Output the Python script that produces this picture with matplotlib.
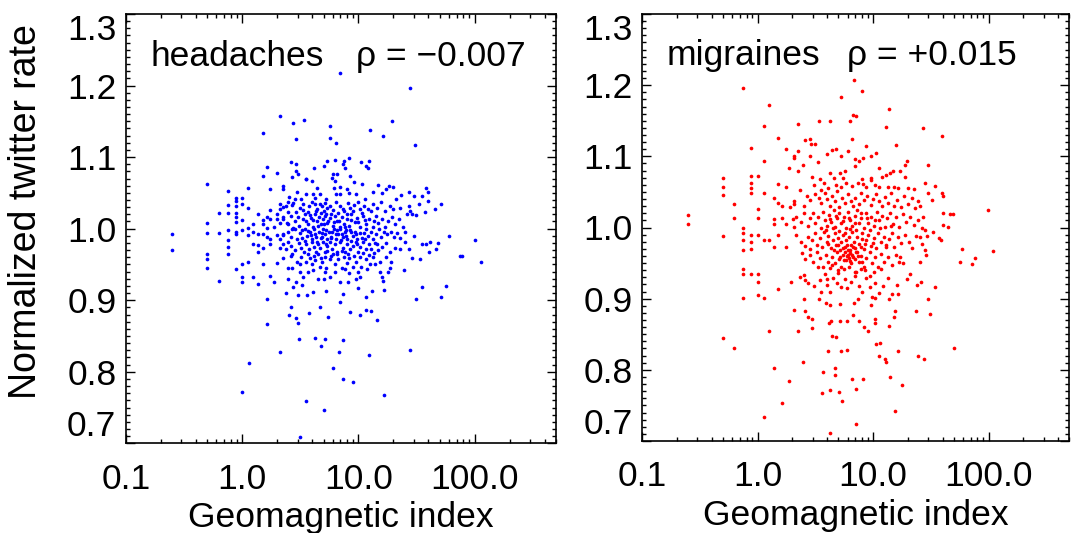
import numpy as np
import matplotlib
matplotlib.use('Agg')
import matplotlib.pyplot as plt
from matplotlib.ticker import FixedLocator, MultipleLocator, LogLocator, NullFormatter

plt.rcParams['font.family'] = ['Liberation Sans', 'DejaVu Sans']

# (geomagnetic index, normalized twitter rate)
headaches_outer = [
    (7.0, 1.218), (27.5, 1.197), (2.13, 1.157), (2.73, 1.147), (3.38, 1.152), (1.50, 1.134),
    (2.88, 1.125), (5.74, 1.144), (5.74, 1.127), (6.38, 1.120), (12.5, 1.138), (19.4, 1.151),
    (16.1, 1.130), (30.6, 1.117),
    (2.61, 1.093), (2.88, 1.090), (2.92, 1.080), (3.0, 1.077), (1.63, 1.086), (1.50, 1.074),
    (2.0, 1.078), (2.66, 1.072), (4.12, 1.085), (5.0, 1.087), (5.40, 1.094), (6.25, 1.096),
    (7.48, 1.095), (8.25, 1.099), (7.3, 1.091), (7.63, 1.085), (6.05, 1.077), (5.9, 1.071),
    (6.3, 1.067), (6.5, 1.077), (10.6, 1.093), (11.6, 1.088), (12.4, 1.095), (12.1, 1.085),
    (8.4, 1.073), (9.06, 1.065), (10.8, 1.063), (3.54, 1.070), (4.0, 1.066), (2.23, 1.060),
    (2.24, 1.056), (1.74, 1.056), (1.13, 1.057), (0.50, 1.063), (0.75, 1.052), (14.6, 1.061),
    (17.2, 1.055), (18.4, 1.059), (20.0, 1.058), (27.3, 1.051), (30.0, 1.046), (34.9, 1.045),
    (38.0, 1.057), (39.5, 1.051), (51.6, 1.034), (39.5, 1.038), (32.9, 1.035), (45.2, 1.027),
    (37.3, 1.023), (27.9, 1.024), (29.0, 1.021), (31.5, 1.019), (27.3, 1.032), (23.2, 1.047),
    (21.0, 1.041), (22.7, 1.029),
    (0.249, 0.993), (0.249, 0.970), (0.50, 1.008), (0.50, 0.994), (0.50, 0.964), (0.50, 0.957),
    (0.50, 0.945), (0.625, 1.022), (0.625, 0.994), (0.625, 0.927), (0.75, 1.033), (0.75, 1.022),
    (0.75, 0.998), (0.75, 0.984), (0.75, 0.974), (0.75, 0.965), (0.877, 1.043), (0.877, 1.038),
    (0.877, 1.031), (0.877, 1.022), (0.877, 1.016), (0.877, 1.009), (0.877, 0.996), (0.877, 0.993),
    (0.877, 0.943), (1.0, 1.043), (1.0, 1.034), (1.0, 1.012), (1.0, 0.998), (1.0, 0.950),
    (1.0, 0.932), (1.0, 0.925), (1.13, 1.029), (1.13, 1.001), (1.13, 0.991), (1.13, 0.953),
    (1.24, 1.007), (1.24, 0.996), (1.24, 0.978), (1.24, 0.932), (1.37, 1.020), (1.37, 0.992),
    (1.37, 0.977), (1.37, 0.968), (1.37, 0.923), (1.50, 1.012), (1.50, 1.007), (1.50, 0.993),
    (1.50, 0.973), (1.50, 0.950), (1.63, 1.016), (1.63, 1.001), (1.63, 0.988), (1.63, 0.902),
    (1.63, 0.867), (1.74, 1.026), (1.74, 1.013), (1.74, 0.986), (1.74, 0.978), (1.74, 0.934),
    (1.86, 1.003), (1.86, 0.925), (2.0, 1.013), (2.0, 0.991), (2.0, 0.952), (2.13, 1.028),
    (2.13, 1.008), (2.13, 0.973), (2.13, 0.828), (2.23, 1.016), (2.23, 0.991), (2.23, 0.959),
    (2.37, 0.910), (2.51, 0.879), (2.61, 0.891), (2.48, 1.023), (2.48, 1.006), (2.48, 0.981),
    (2.48, 0.945), (2.48, 0.930), (2.66, 1.033), (2.69, 0.999), (2.69, 0.964), (2.73, 0.919),
    (2.88, 0.875), (3.0, 0.868), (3.0, 0.907), (3.08, 0.846), (3.12, 0.940), (3.27, 0.921),
    (3.52, 0.759), (3.73, 0.882), (3.6, 0.907), (4.1, 0.911), (4.23, 0.847), (4.67, 0.891),
    (4.72, 0.836), (5.13, 0.846), (5.0, 0.747), (5.25, 0.913), (5.51, 0.876), (6.0, 0.805),
    (6.77, 0.828), (7.3, 0.845), (7.0, 0.897), (7.3, 0.790), (7.42, 0.908), (8.4, 0.884),
    (8.95, 0.786), (9.87, 0.917), (10.3, 0.879), (11.6, 0.904), (11.6, 0.886), (12.9, 0.885),
    (14.4, 0.872), (13.0, 0.913), (12.2, 0.823), (16.6, 0.767), (16.2, 0.927), (16.6, 0.914),
    (16.0, 0.932), (27.9, 0.831), (34.9, 0.918), (31.5, 0.902), (56.6, 0.920), (51.3, 0.904),
    (100.7, 0.984), (112.7, 0.954), (74.8, 0.962), (78.0, 0.962), (60.0, 0.990), (48.0, 0.980),
    (41.1, 0.981), (38.0, 0.979), (40.5, 0.968), (46.3, 0.971), (34.9, 0.978), (30.0, 0.990),
    (34.1, 0.957), (27.3, 0.971), (28.8, 0.959), (24.6, 0.942), (19.2, 0.954), (18.7, 0.945),
    (17.8, 0.939), (15.3, 0.940), (14.0, 0.950), (13.7, 0.966), (3.12, 0.709), (1.14, 0.812),
    (1.0, 0.772),
]

headaches_core = [
    (2.95, 1.051), (3.56, 1.069), (3.56, 1.048), (4.1, 1.048), (4.4, 1.057), (4.7, 1.048),
    (5.3, 1.042), (6.1, 1.057), (6.9, 1.058), (7.9, 1.055), (8.3, 1.050), (9.5, 1.049),
    (6.4, 1.048), (7.0, 1.048), (13.4, 1.051), (11.3, 1.042), (15.9, 1.050), (2.82, 1.041),
    (3.2, 1.041), (2.52, 1.044), (2.48, 1.037),
    (2.24, 1.030), (2.37, 1.032), (2.73, 1.036), (3.15, 1.029), (3.3, 1.035), (3.75, 1.031),
    (3.95, 1.037), (4.2, 1.034), (4.4, 1.027), (4.65, 1.035), (4.9, 1.031), (5.2, 1.036),
    (5.4, 1.029), (5.65, 1.032), (6.05, 1.026), (6.45, 1.037), (7.0, 1.031), (7.5, 1.024),
    (8.1, 1.036), (8.5, 1.029), (9.1, 1.033), (9.9, 1.037), (10.3, 1.027), (11.2, 1.031),
    (12.1, 1.028), (13.2, 1.034), (14.3, 1.029), (15.5, 1.037), (16.8, 1.024), (18.6, 1.032),
    (19.9, 1.027), (4.2, 1.043), (5.0, 1.024), (3.7, 1.023), (2.9, 1.023), (2.13, 1.034),
    (2.24, 1.013), (2.43, 1.008), (2.64, 1.018), (2.82, 1.010), (3.0, 1.016), (3.1, 1.004),
    (3.3, 1.013), (3.5, 1.020), (3.7, 1.007), (3.9, 1.015), (4.06, 1.003), (4.2, 1.020),
    (4.4, 1.010), (4.6, 1.016), (4.8, 1.006), (4.97, 1.013), (5.25, 1.020), (5.4, 1.008),
    (5.65, 1.015), (6.0, 1.004), (6.25, 1.018), (6.5, 1.010), (6.9, 1.003), (7.2, 1.016),
    (7.5, 1.007), (7.9, 1.013), (8.3, 1.004), (8.7, 1.020), (9.3, 1.009), (9.7, 1.015),
    (10.3, 1.003), (11.0, 1.018), (11.6, 1.006), (12.4, 1.013), (13.2, 1.003), (14.1, 1.017),
    (14.8, 1.008), (15.8, 1.014), (16.8, 1.003), (18.0, 1.010), (19.3, 1.016), (20.6, 1.006),
    (22.4, 1.013), (24.3, 1.003), (25.9, 1.020), (2.73, 1.001), (1.99, 1.020),
    (2.48, 0.996), (2.64, 0.989), (2.82, 1.000), (2.95, 0.986), (3.12, 0.994), (3.28, 0.987),
    (3.45, 0.999), (3.6, 0.990), (3.8, 0.995), (4.0, 0.986), (4.16, 0.999), (4.35, 0.989),
    (4.55, 0.996), (4.72, 0.987), (4.95, 1.000), (5.15, 0.992), (5.4, 0.986), (5.55, 0.996),
    (5.85, 0.989), (6.1, 0.999), (6.4, 0.986), (6.7, 0.993), (7.0, 0.999), (7.3, 0.988),
    (7.6, 0.995), (8.0, 0.986), (8.4, 0.998), (8.9, 0.990), (9.35, 0.996), (9.8, 0.986),
    (10.3, 0.994), (10.8, 0.987), (11.5, 0.999), (12.1, 0.990), (12.7, 0.996), (13.4, 0.986),
    (14.1, 0.993), (14.9, 0.999), (15.7, 0.988), (16.5, 0.995), (17.7, 0.992), (18.9, 0.996),
    (20.1, 0.989), (21.5, 0.994), (22.9, 0.987), (25.0, 0.996), (2.24, 0.993), (2.13, 0.985),
    (2.64, 0.976), (2.82, 0.970), (3.08, 0.980), (3.23, 0.973), (3.4, 0.967), (3.56, 0.978),
    (3.73, 0.971), (3.95, 0.982), (4.12, 0.975), (4.3, 0.968), (4.5, 0.979), (4.7, 0.973),
    (4.95, 0.981), (5.15, 0.968), (5.4, 0.976), (5.65, 0.982), (5.9, 0.972), (6.25, 0.978),
    (6.5, 0.967), (6.9, 0.981), (7.3, 0.973), (7.7, 0.967), (8.0, 0.979), (8.4, 0.971),
    (8.9, 0.976), (9.5, 0.982), (9.9, 0.968), (10.4, 0.975), (11.0, 0.981), (11.6, 0.971),
    (12.2, 0.978), (12.9, 0.972), (13.8, 0.980), (14.8, 0.970), (15.8, 0.975), (17.3, 0.980),
    (18.6, 0.968), (20.6, 0.973), (22.7, 0.971), (25.0, 0.982), (2.4, 0.971), (2.24, 0.978),
    (2.64, 0.962), (2.95, 0.954), (3.23, 0.961), (3.52, 0.953), (3.8, 0.959), (4.0, 0.950),
    (4.2, 0.956), (4.5, 0.964), (4.65, 0.947), (4.9, 0.954), (5.1, 0.961), (5.3, 0.945),
    (5.65, 0.957), (6.0, 0.964), (6.25, 0.950), (6.7, 0.957), (7.15, 0.945), (7.5, 0.961),
    (7.9, 0.952), (8.3, 0.959), (9.0, 0.947), (9.6, 0.954), (10.3, 0.961), (10.6, 0.947),
    (11.5, 0.957), (12.6, 0.950), (13.4, 0.961), (15.3, 0.954), (17.3, 0.961), (3.7, 0.940),
    (4.06, 0.942), (5.13, 0.939), (5.7, 0.933), (6.25, 0.939), (7.6, 0.943), (8.3, 0.938),
    (9.9, 0.940), (10.3, 0.933), (11.9, 0.943), (2.7, 0.945), (3.12, 0.950), (3.33, 0.933),
    (4.5, 0.929), (5.0, 0.929), (6.9, 0.926), (8.1, 0.926), (9.6, 0.929), (2.9, 0.926),
]

# extra points in the densest part of the headaches cloud
headaches_dense = [
    (3.35, 1.026), (3.85, 1.019), (4.3, 1.024), (4.75, 1.022), (5.1, 1.017), (5.8, 1.021),
    (6.6, 1.022), (7.3, 1.027), (8.0, 1.020), (9.0, 1.024), (10.8, 1.022), (12.8, 1.024),
    (3.55, 1.010), (4.05, 1.012), (4.5, 1.004), (5.05, 1.006), (5.5, 1.011), (6.15, 1.009),
    (6.8, 1.011), (7.7, 1.002), (8.6, 1.012), (9.9, 1.009), (11.4, 1.012), (13.7, 1.011),
    (3.25, 0.998), (3.7, 0.997), (4.25, 0.993), (4.85, 0.994), (5.3, 0.998), (5.95, 0.996),
    (6.55, 0.998), (7.15, 0.993), (7.85, 0.998), (8.7, 0.995), (9.6, 0.992), (11.2, 0.994),
    (3.45, 0.983), (3.9, 0.991), (4.4, 0.981), (4.85, 0.988), (5.25, 0.979), (5.75, 0.987),
    (6.35, 0.992), (7.05, 0.984), (7.75, 0.990), (8.6, 0.983), (9.7, 0.979), (11.3, 0.986),
    (3.65, 0.964), (4.15, 0.962), (4.75, 0.959), (5.35, 0.969), (5.85, 0.962), (6.55, 0.965),
    (7.25, 0.969), (8.15, 0.964), (9.2, 0.962), (10.9, 0.966), (12.3, 0.963), (14.3, 0.978),
]

migraines_outer = [
    (6.77, 1.207), (0.747, 1.196), (8.03, 1.192), (5.30, 1.183), (1.24, 1.172), (13.6, 1.166),
    (6.67, 1.158), (7.12, 1.156), (6.3, 1.149), (3.38, 1.150), (4.23, 1.150), (2.23, 1.146),
    (1.13, 1.143), (12.8, 1.141), (27.2, 1.140), (39.1, 1.129), (1.50, 1.126), (2.59, 1.123),
    (2.85, 1.125), (2.88, 1.118), (3.13, 1.118), (6.5, 1.125), (15.9, 1.116), (0.877, 1.112),
    (1.74, 1.110), (2.24, 1.108), (2.08, 1.101), (2.08, 1.097), (2.86, 1.101), (4.36, 1.109),
    (4.8, 1.111), (6.05, 1.108), (8.7, 1.115), (10.5, 1.105), (9.55, 1.100), (5.3, 1.101),
    (6.9, 1.096), (7.6, 1.093), (8.2, 1.098), (1.13, 1.094), (1.86, 1.084), (2.24, 1.080),
    (2.48, 1.088), (3.33, 1.092), (3.95, 1.103), (5.7, 1.080), (6.9, 1.087), (11.3, 1.083),
    (14.8, 1.080), (17.2, 1.080), (18.8, 1.088), (19.5, 1.093), (30.0, 1.088),
    (0.249, 1.017), (0.249, 1.005), (0.50, 1.069), (0.50, 1.057), (0.50, 1.045), (0.50, 0.988),
    (0.50, 0.845), (0.625, 1.033), (0.625, 1.014), (0.625, 0.830), (0.75, 1.000), (0.75, 0.992),
    (0.75, 0.983), (0.75, 0.969), (0.75, 0.941), (0.75, 0.935), (0.75, 0.901), (0.877, 1.072),
    (0.877, 1.063), (0.877, 1.055), (0.877, 1.048), (0.877, 0.990), (0.877, 0.980), (0.877, 0.970),
    (0.877, 0.935), (1.0, 1.073), (1.0, 1.026), (1.0, 1.014), (1.0, 0.989), (1.0, 0.935),
    (1.0, 0.923), (1.0, 0.905), (1.13, 1.049), (1.13, 0.982), (1.13, 0.901), (1.13, 0.734),
    (1.24, 0.983), (1.24, 0.855), (1.37, 1.041), (1.37, 1.012), (1.37, 1.005), (1.37, 0.972),
    (1.37, 0.802), (1.50, 1.061), (1.50, 1.034), (1.50, 0.990), (1.50, 0.914), (1.62, 1.030),
    (1.62, 1.013), (1.62, 0.753), (1.74, 1.057), (1.74, 1.005), (1.74, 0.972), (1.86, 0.784),
    (1.90, 1.029), (1.96, 0.924), (2.02, 1.012), (2.08, 1.037), (2.08, 1.001), (2.08, 0.884),
    (2.23, 0.855), (2.48, 0.811), (2.5, 0.899), (2.59, 0.882), (2.7, 0.874), (2.95, 0.859),
    (2.97, 0.872), (2.59, 0.926), (2.32, 0.931), (3.6, 0.767), (3.7, 0.797), (4.1, 0.827),
    (4.2, 0.772), (4.2, 0.711), (4.44, 0.847), (4.72, 0.846), (4.65, 0.802), (4.7, 0.793),
    (5.1, 0.769), (5.4, 0.756), (5.23, 0.827), (5.9, 0.828), (6.5, 0.787), (7.12, 0.773),
    (7.15, 0.724), (8.2, 0.787), (10.5, 0.837), (11.5, 0.838), (11.3, 0.820), (12.7, 0.815),
    (12.8, 0.811), (14.0, 0.790), (15.6, 0.742), (17.6, 0.779), (16.4, 0.826), (24.4, 0.819),
    (27.3, 0.815), (50.2, 0.831), (4.16, 0.866), (4.3, 0.869), (5.2, 0.869), (5.9, 0.869),
    (6.67, 0.877), (7.5, 0.869), (8.25, 0.860), (9.1, 0.855), (10.4, 0.871), (10.4, 0.866),
    (13.6, 0.862), (15.2, 0.874), (15.6, 0.883), (23.5, 0.883), (31.2, 0.878), (30.0, 0.899),
    (34.3, 0.917), (25.9, 0.924), (24.2, 0.919), (56.0, 0.951), (58.4, 0.970), (72.5, 0.949),
    (75.9, 0.957), (110.0, 0.967), (99.0, 1.024), (49.3, 1.019), (46.7, 1.019), (40.3, 1.020),
    (40.4, 1.003), (44.3, 1.001), (36.9, 0.985), (38.6, 0.982), (33.2, 0.994), (32.3, 1.038),
    (30.0, 1.049), (34.6, 1.059), (39.8, 1.048), (40.2, 1.044), (28.3, 1.062), (25.6, 1.030),
    (26.9, 1.015), (28.3, 0.997), (29.3, 0.988), (25.5, 0.986), (26.7, 0.977), (28.3, 0.969),
    (28.5, 0.962), (25.2, 0.952), (20.7, 0.934), (19.6, 0.927), (18.0, 0.950), (17.2, 0.958),
]

migraines_core = [
    (2.95, 1.071), (3.45, 1.068), (3.75, 1.062), (4.2, 1.077), (4.6, 1.069), (5.2, 1.076),
    (5.45, 1.069), (4.8, 1.060), (5.3, 1.057), (4.1, 1.055), (3.1, 1.060), (3.56, 1.053),
    (5.8, 1.062), (6.5, 1.058), (7.4, 1.062), (8.0, 1.068), (8.7, 1.057), (9.5, 1.069),
    (10.4, 1.060), (11.3, 1.057), (11.9, 1.071), (13.0, 1.074), (14.1, 1.076), (13.4, 1.057),
    (15.2, 1.057), (16.5, 1.055), (18.8, 1.071), (19.9, 1.055), (22.7, 1.054), (8.1, 1.061),
    (9.6, 1.067),
    (2.32, 1.052), (2.69, 1.044), (2.82, 1.038), (3.15, 1.047), (3.38, 1.041), (3.56, 1.034),
    (3.84, 1.048), (4.02, 1.040), (4.23, 1.030), (4.4, 1.044), (4.65, 1.037), (4.9, 1.051),
    (5.1, 1.029), (5.35, 1.041), (5.65, 1.034), (6.05, 1.047), (6.4, 1.037), (6.7, 1.030),
    (7.0, 1.042), (7.5, 1.033), (7.9, 1.049), (8.3, 1.038), (8.9, 1.044), (9.5, 1.032),
    (10.0, 1.040), (10.6, 1.047), (11.2, 1.037), (11.9, 1.030), (12.6, 1.043), (13.4, 1.035),
    (14.3, 1.048), (15.2, 1.030), (16.2, 1.039), (17.5, 1.029), (18.6, 1.044), (19.9, 1.033),
    (21.6, 1.041), (23.0, 1.027), (24.6, 1.037), (2.08, 1.033), (2.52, 1.030),
    (2.16, 1.015), (2.37, 1.008), (2.52, 1.020), (2.7, 1.002), (2.84, 1.013), (3.0, 1.021),
    (3.15, 1.006), (3.3, 1.015), (3.5, 0.999), (3.7, 1.022), (3.84, 1.010), (4.0, 1.002),
    (4.16, 1.018), (4.35, 1.008), (4.55, 1.024), (4.7, 1.001), (4.9, 1.013), (5.1, 1.021),
    (5.3, 1.006), (5.55, 1.015), (5.8, 0.999), (6.05, 1.022), (6.3, 1.010), (6.6, 1.002),
    (6.9, 1.016), (7.2, 1.024), (7.55, 1.006), (7.9, 1.013), (8.3, 0.999), (8.7, 1.020),
    (9.1, 1.007), (9.6, 1.015), (10.1, 1.002), (10.7, 1.022), (11.3, 1.010), (11.9, 1.016),
    (12.6, 1.001), (13.2, 1.013), (13.9, 1.021), (14.8, 1.005), (15.8, 1.015), (16.8, 1.001),
    (18.0, 1.019), (19.3, 1.008), (21.0, 1.015), (22.4, 1.004), (24.3, 1.011), (26.4, 0.999),
    (2.16, 0.990), (2.37, 0.980), (2.56, 0.974), (2.7, 0.987), (2.82, 0.970), (2.95, 0.982),
    (3.12, 0.992), (3.28, 0.976), (3.45, 0.985), (3.6, 0.972), (3.75, 0.994), (3.95, 0.980),
    (4.1, 0.988), (4.3, 0.971), (4.45, 0.983), (4.65, 0.992), (4.8, 0.976), (4.97, 0.985),
    (5.15, 0.969), (5.3, 0.979), (5.5, 0.990), (5.65, 0.973), (5.85, 0.982), (6.05, 0.969),
    (6.2, 0.987), (6.4, 0.976), (6.6, 0.994), (6.8, 0.980), (7.0, 0.971), (7.3, 0.987),
    (7.6, 0.977), (8.0, 0.992), (8.3, 0.970), (8.7, 0.983), (9.1, 0.990), (9.6, 0.974),
    (10.1, 0.985), (10.6, 0.971), (11.1, 0.992), (11.7, 0.980), (12.4, 0.987), (13.0, 0.976),
    (13.8, 0.984), (14.5, 0.992), (15.3, 0.973), (16.4, 0.987), (17.5, 0.978), (18.9, 0.990),
    (20.6, 0.980), (21.9, 0.971), (23.5, 0.988),
    (2.4, 0.964), (2.59, 0.956), (2.82, 0.962), (3.0, 0.952), (3.23, 0.965), (3.45, 0.957),
    (3.7, 0.945), (3.87, 0.962), (4.06, 0.952), (4.26, 0.943), (4.42, 0.959), (4.65, 0.950),
    (4.84, 0.965), (5.06, 0.956), (5.3, 0.945), (5.5, 0.962), (5.7, 0.966), (5.85, 0.955),
    (6.05, 0.962), (6.25, 0.964), (6.45, 0.950), (6.75, 0.959), (7.15, 0.966), (7.5, 0.952),
    (7.9, 0.960), (8.3, 0.945), (8.75, 0.957), (9.3, 0.965), (9.8, 0.950), (10.3, 0.959),
    (11.0, 0.945), (11.7, 0.963), (12.4, 0.952), (13.4, 0.959), (14.5, 0.948), (15.8, 0.962),
    (16.8, 0.952), (11.7, 0.941), (10.1, 0.938), (7.9, 0.941), (6.9, 0.938),
    (2.52, 0.933), (2.73, 0.922), (3.08, 0.918), (3.45, 0.926), (3.56, 0.910), (3.84, 0.935),
    (4.02, 0.919), (4.23, 0.909), (4.5, 0.929), (4.84, 0.922), (4.97, 0.936), (5.23, 0.917),
    (5.65, 0.927), (5.95, 0.915), (6.45, 0.924), (6.9, 0.932), (7.5, 0.918), (8.0, 0.909),
    (8.7, 0.929), (9.3, 0.916), (9.8, 0.903), (10.3, 0.922), (11.2, 0.908), (12.2, 0.918),
    (13.4, 0.929), (14.5, 0.907), (16.2, 0.919), (3.38, 0.899), (3.87, 0.894), (4.23, 0.891),
    (5.15, 0.893), (6.85, 0.894), (7.4, 0.899), (9.6, 0.891), (10.3, 0.901), (13.8, 0.899),
    (16.4, 0.907),
]

# extra points in the densest part of the migraines cloud
migraines_dense = [
    (4.25, 1.012), (4.75, 1.016), (5.45, 1.009), (6.15, 1.014), (6.95, 1.007), (7.85, 1.020),
    (8.9, 1.013), (10.4, 1.010), (3.9, 0.996), (4.45, 0.999), (5.05, 0.995), (5.75, 0.992),
    (6.35, 0.998), (7.15, 0.996), (7.95, 0.984), (9.3, 0.997), (11.4, 0.999), (4.05, 0.977),
    (4.55, 0.968), (5.0, 0.976), (5.45, 0.971), (5.95, 0.975), (6.3, 0.969), (6.65, 0.972),
    (7.25, 0.965), (7.8, 0.972), (8.5, 0.977), (9.9, 0.978), (5.2, 0.958), (5.6, 0.954),
    (5.9, 0.960), (6.15, 0.957), (6.35, 0.953), (6.6, 0.962), (7.0, 0.956), (7.35, 0.960),
    (8.05, 0.951), (4.4, 0.948), (4.95, 0.940), (5.55, 0.942), (6.2, 0.945), (7.1, 0.937),
    (8.45, 0.940), (9.4, 0.932), (3.3, 0.945), (3.95, 0.928), (12.9, 0.972), (14.2, 1.002),
]

panels = [
    ('headaches', '\u03c1 = \u22120.007', headaches_outer + headaches_core + headaches_dense, 'blue',
     [126 / 1078, 89.7 / 533, 430 / 1078, 429.3 / 533], 0.535),
    ('migraines', '\u03c1 = +0.015', migraines_outer + migraines_core + migraines_dense, 'red',
     [642.3 / 1078, 92 / 533, 427 / 1078, 427 / 533], 0.48),
]

fs = 25.5
fig = plt.figure(figsize=(10.78, 5.33), dpi=100)

for i, (name, rho, pts, col, rect, rho_x) in enumerate(panels):
    ax = fig.add_axes(rect)
    pts = np.array(pts)
    ax.scatter(pts[:, 0], pts[:, 1], s=7, c=col, marker='o', linewidths=0)

    ax.set_xscale('log')
    ax.set_xlim(0.1, 500)
    ax.set_ylim(0.7, 1.3)

    ax.xaxis.set_major_locator(FixedLocator([0.1, 1, 10, 100]))
    ax.set_xticklabels(['0.1', '1.0', '10.0', '100.0'])
    ax.xaxis.set_minor_locator(LogLocator(base=10, subs=np.arange(2, 10)))
    ax.xaxis.set_minor_formatter(NullFormatter())

    ax.yaxis.set_major_locator(FixedLocator([0.7, 0.8, 0.9, 1.0, 1.1, 1.2, 1.3]))
    ax.set_yticklabels(['0.7', '0.8', '0.9', '1.0', '1.1', '1.2', '1.3'])
    ax.yaxis.set_minor_locator(MultipleLocator(0.01))
    ylabs = ax.get_yticklabels()
    ylabs[0].set_va('bottom')
    ylabs[-1].set_va('top')

    ax.tick_params(which='both', direction='in', top=True, right=True,
                   labelsize=fs, width=1.0)
    ax.tick_params(which='major', length=6.5)
    ax.tick_params(which='minor', length=3.2)
    ax.tick_params(axis='x', pad=14)
    ax.tick_params(axis='y', pad=7)
    for sp in ax.spines.values():
        sp.set_linewidth(1.2)

    ax.set_xlabel('Geomagnetic index', fontsize=fs, labelpad=4)
    if i == 0:
        ax.set_ylabel('Normalized twitter rate', fontsize=27)
        ax.yaxis.set_label_coords(-0.19, 0.54)

    ax.text(0.056, 0.902, name, transform=ax.transAxes, fontsize=fs,
            ha='left', va='center')
    ax.text(rho_x, 0.902, rho, transform=ax.transAxes, fontsize=fs,
            ha='left', va='center')

fig.savefig('out.png', dpi=100)
